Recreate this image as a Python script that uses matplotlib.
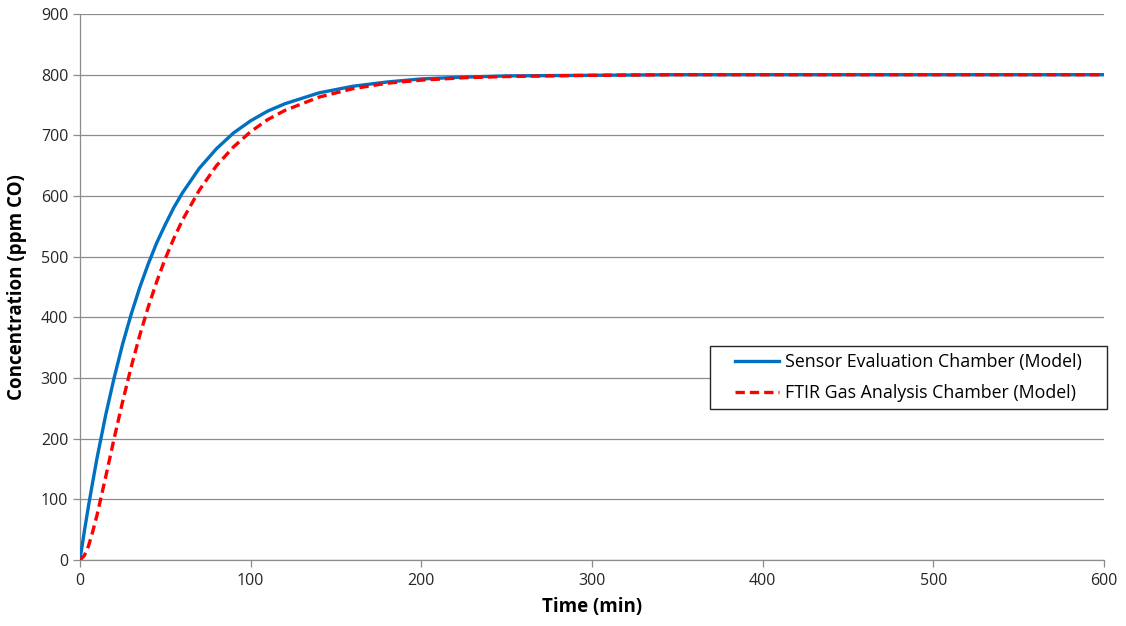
import matplotlib.pyplot as plt
from matplotlib.patches import Rectangle

# time points (min)
time_min = [0, 2.5, 5, 7.5, 10, 15, 20, 25, 30, 35, 40, 45, 50, 55, 60, 70, 80, 90,
            100, 110, 120, 140, 160, 180, 200, 225, 250, 300, 350, 400, 500, 600]

# concentration (ppm CO)
sensor_chamber = [0, 46, 89, 129, 168, 238, 300, 356, 405, 449, 488, 523, 553, 581,
                  605, 646, 678, 704, 724, 740, 752, 770, 781, 788, 793, 796, 798,
                  799, 800, 800, 800, 800]
ftir_chamber = [0, 7, 23, 47, 74, 136, 200, 261, 318, 370, 417, 459, 497, 530,
                560, 610, 650, 681, 706, 726, 741, 763, 777, 786, 791, 795, 797,
                799, 800, 800, 800, 800]

x_ticks = [0, 100, 200, 300, 400, 500, 600]
y_ticks = [0, 100, 200, 300, 400, 500, 600, 700, 800, 900]

plt.rcParams['font.family'] = ['Open Sans', 'DejaVu Sans']

fig = plt.figure(figsize=(11.26, 6.26), dpi=100)
ax = fig.add_axes([0.0710, 0.1054, 0.9095, 0.8722])

ax.plot(time_min, sensor_chamber, color='#0070C0', lw=2.4,
        label='Sensor Evaluation Chamber (Model)', zorder=3)
ax.plot(time_min, ftir_chamber, color='#FF0000', lw=2.4, linestyle=(0, (2.8, 1.5)),
        label='FTIR Gas Analysis Chamber (Model)', zorder=4)

ax.set_xlim(0, 600)
ax.set_ylim(0, 900)
ax.set_xticks(x_ticks)
ax.set_yticks(y_ticks)
ax.grid(axis='y', color='#8c8c8c', lw=0.9)
ax.set_axisbelow(True)
for s in ['top', 'right']:
    ax.spines[s].set_visible(False)
for s in ['left', 'bottom']:
    ax.spines[s].set_color('#8c8c8c')
    ax.spines[s].set_linewidth(0.9)
ax.tick_params(colors='#8c8c8c', labelcolor='#262626', labelsize=11.5, length=5, width=0.9)
ax.tick_params(axis='x', pad=4)

ax.set_xlabel('Time (min)', fontsize=13.5, fontweight='bold', labelpad=6)
ax.set_ylabel('Concentration (ppm CO)', fontsize=13.5, fontweight='bold', labelpad=10)

# legend frame drawn separately (wider side padding than matplotlib allows)
box_x0, box_x1 = 0.6152, 1.0029
box_y0, box_y1 = 0.2766, 0.3919
ax.add_patch(Rectangle((box_x0, box_y0), box_x1 - box_x0, box_y1 - box_y0,
                       transform=ax.transAxes, facecolor='white', edgecolor='#262626',
                       lw=1.0, clip_on=False, zorder=5))
leg = ax.legend(loc='center', bbox_to_anchor=((box_x0 + box_x1) / 2, (box_y0 + box_y1) / 2),
                fontsize=12.8, frameon=False, handlelength=2.5, borderpad=0.0,
                labelspacing=0.7, handletextpad=0.35)
leg.set_zorder(6)

fig.savefig('out.png', dpi=100)
